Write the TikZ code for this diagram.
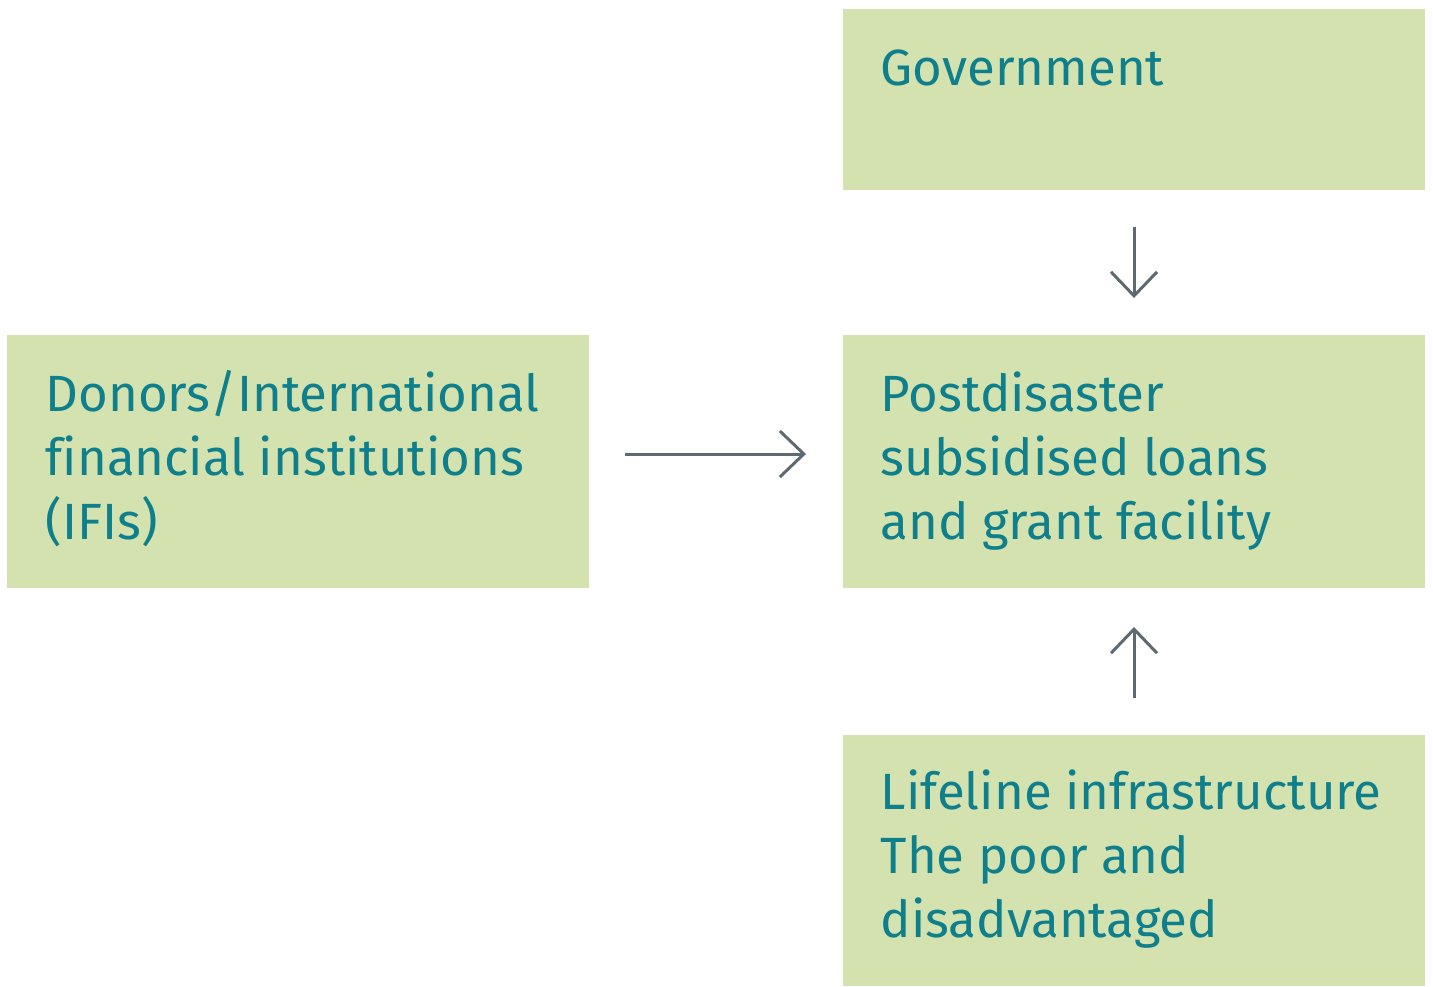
\documentclass[tikz,border=0pt]{standalone}
\usepackage{fontspec}
\setmainfont{Fira Sans}[Ligatures=CommonOff]
\usetikzlibrary{arrows.meta, positioning, calc}

\definecolor{boxgreen}{HTML}{D3E2AF}
\definecolor{textteal}{HTML}{0F7F8C}
\definecolor{arrowgrey}{HTML}{5E6A70}

\tikzset{
    box/.style={fill=boxgreen, draw=none, minimum width=5.82cm, inner sep=0, outer sep=0},
    boxtext/.style={anchor=base west, inner sep=0, align=left, text=textteal,
        font=\fontsize{14.5pt}{18.2pt}\selectfont},
    arr/.style={draw=arrowgrey, line width=0.85pt, -{Straight Barb[length=0.24cm, width=0.46cm]}}
}

\begin{document}
\begin{tikzpicture}
        \useasboundingbox (0,0) rectangle (14.33,9.86);
        
        % boxes
        \node[box, minimum height=1.81cm, anchor=north west] (gov) at (8.43,9.77) {};
        \node[box, minimum height=2.53cm, anchor=north west] (facility) at (8.43,6.51) {};
        \node[box, minimum height=2.53cm, anchor=north west] (donors) at (0.07,6.51) {};
        \node[box, minimum height=2.51cm, anchor=north west] (lifeline) at (8.43,2.51) {};
        
        % texts (base = last line)
        \node[boxtext] (govtext) at ($(gov.north west)+(0.37,-0.76)$) {Government};
        \node[boxtext] (facilitytext) at ($(facility.north west)+(0.37,-2.04)$) {Postdisaster\\subsidised loans\\and grant facility};
        \node[boxtext] (donorstext) at ($(donors.north west)+(0.38,-2.04)$) {Donors/International\\financial institutions\\(IFIs)};
        \node[boxtext] (lifelinetext) at ($(lifeline.north west)+(0.37,-2.02)$) {Lifeline infrastructure\\The poor and\\disadvantaged};
        
        % arrows
        \draw[arr] ([shift={(0.36,0.075)}]donors.east) -- ([shift={(-0.37,0.075)}]facility.west);
        \draw[arr] ([yshift=-0.37cm]gov.south) -- ([yshift=0.37cm]facility.north);
        \draw[arr] ([yshift=0.37cm]lifeline.north) -- ([yshift=-0.39cm]facility.south);
    \end{tikzpicture}
\end{document}
